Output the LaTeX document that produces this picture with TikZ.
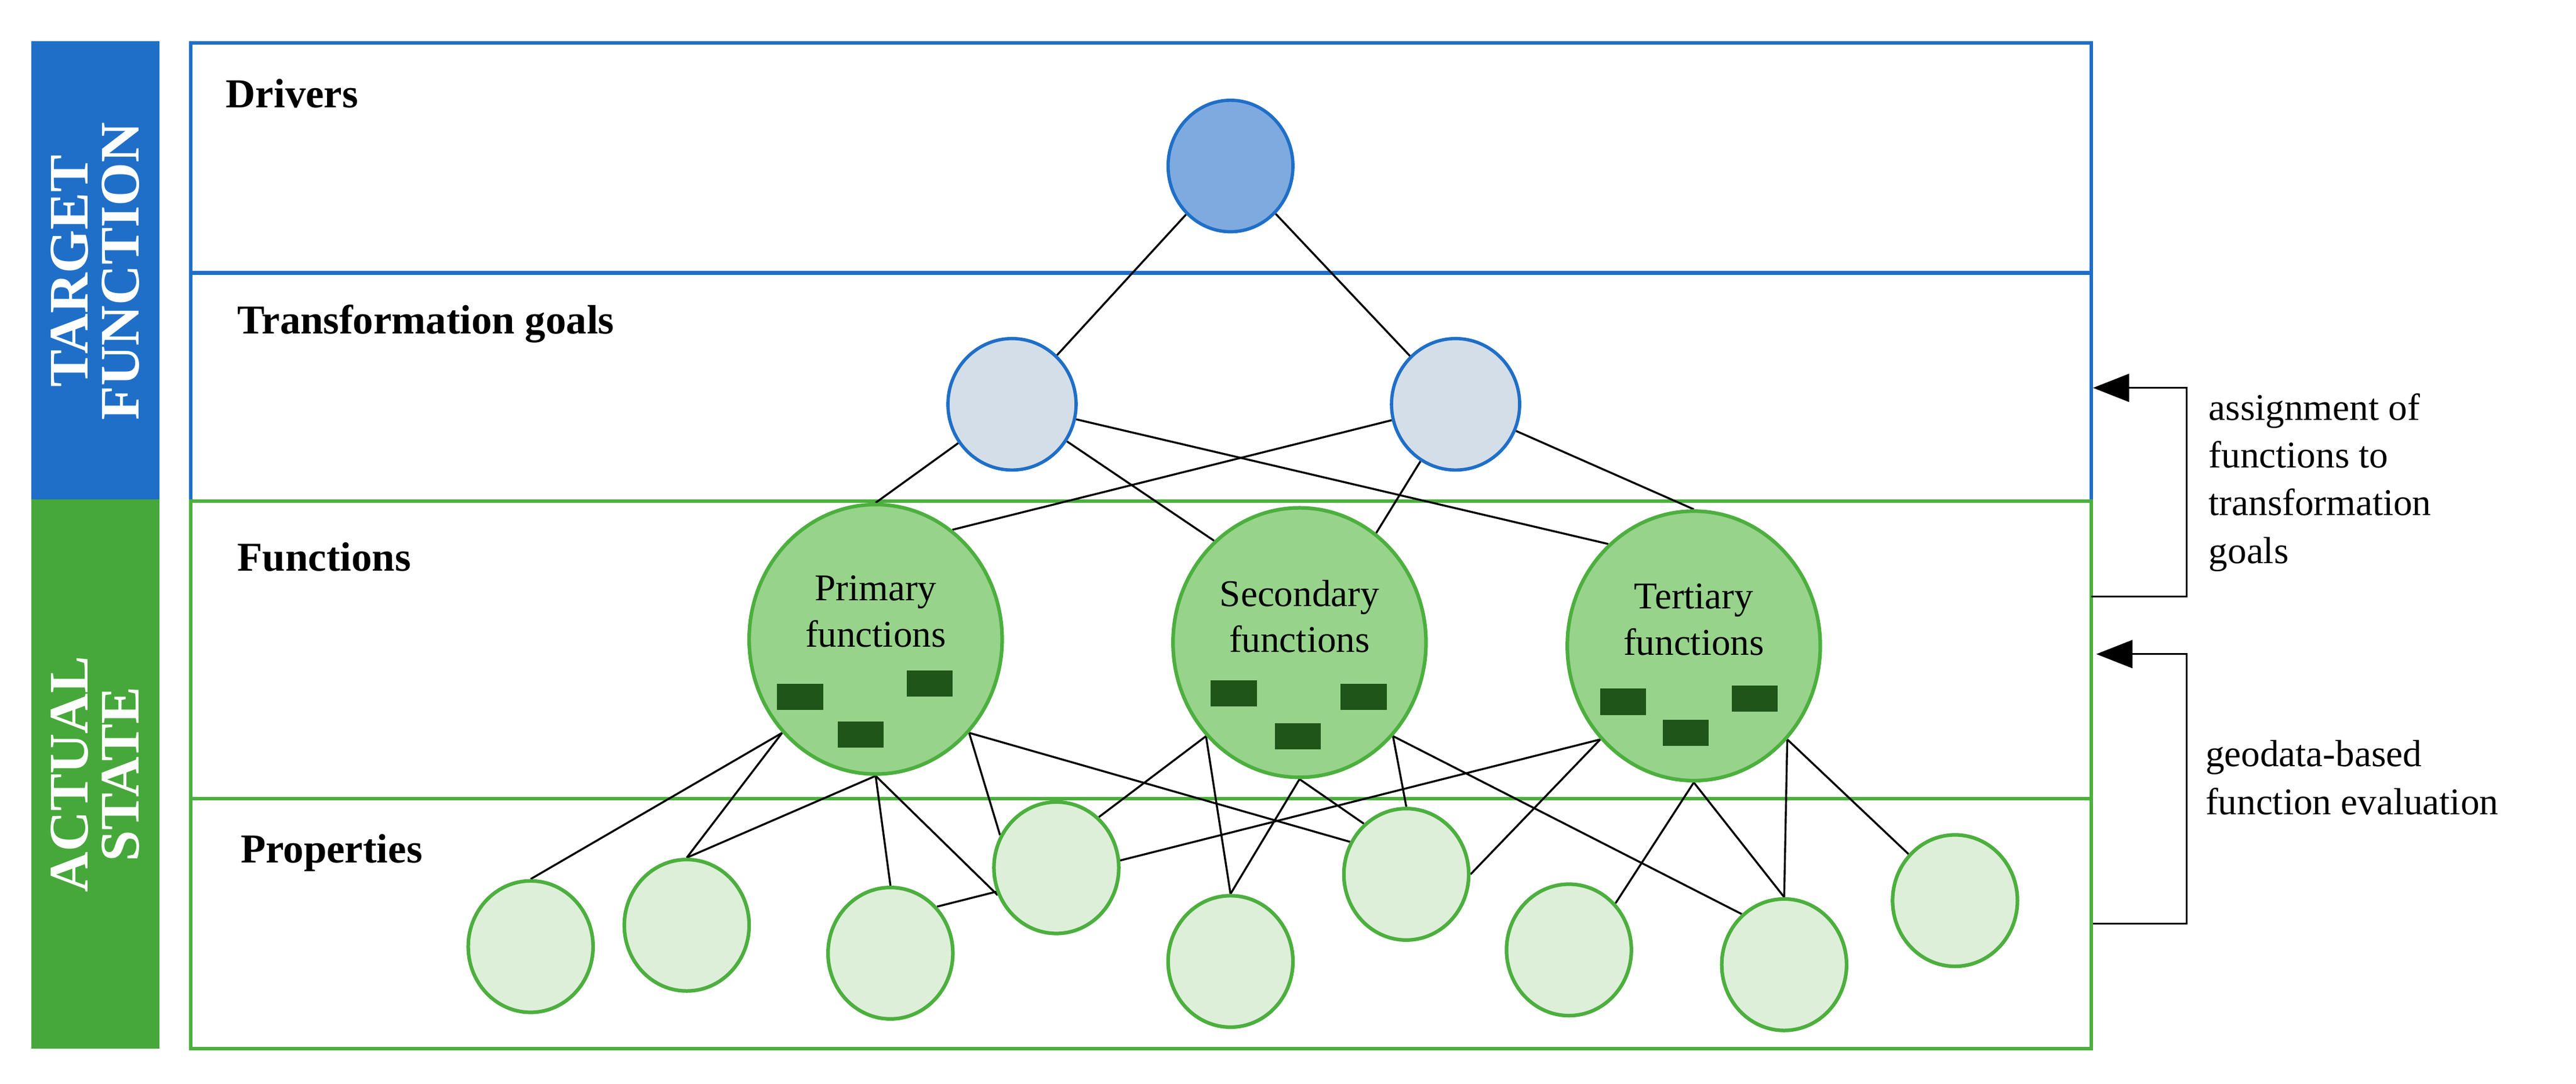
\documentclass[tikz,border=0pt]{standalone}
\usepackage{fontspec}
\setmainfont{Liberation Serif}
\usetikzlibrary{arrows.meta,shapes.geometric}
\pgfdeclarelayer{bg}\pgfsetlayers{bg,main}
\definecolor{bblue}{HTML}{1F6FC8}
\definecolor{dfill}{HTML}{7FAADF}
\definecolor{tfill}{HTML}{D4DEE8}
\definecolor{gbar}{HTML}{46A83A}
\definecolor{gline}{HTML}{4CAF3E}
\definecolor{ffill}{HTML}{97D38B}
\definecolor{pfill}{HTML}{DDEFD9}
\definecolor{dark}{HTML}{1F5518}
\begin{document}
\begin{tikzpicture}[x=1pt,y=-1pt,
 blue/.style={draw=bblue,line width=2.2pt},
 grn/.style={draw=gline,line width=2.2pt},
 drv/.style={ellipse,draw=bblue,line width=2pt,fill=dfill,minimum width=76pt,minimum height=80pt,inner sep=0},
 tg/.style={ellipse,draw=bblue,line width=2pt,fill=tfill,minimum width=78pt,minimum height=80pt,inner sep=0},
 fn/.style={ellipse,draw=gline,line width=2.2pt,fill=ffill,minimum width=154pt,minimum height=164pt,inner sep=0},
 pr/.style={ellipse,draw=gline,line width=2.2pt,fill=pfill,minimum width=76pt,minimum height=80pt,inner sep=0},
 blk/.style={fill=dark,minimum width=28pt,minimum height=16pt,inner sep=0},
 lvl/.style={anchor=west,font=\fontsize{25}{28}\selectfont\bfseries},
 ftx/.style={align=center,font=\fontsize{23}{28}\selectfont},
 side/.style={align=left,anchor=north west,font=\fontsize{23}{29}\selectfont},
 bar/.style={rotate=90,align=center,text=white,font=\fontsize{34}{31}\selectfont\bfseries},
 ln/.style={black,line width=1.2pt},
 arr/.style={black,line width=1.2pt,-{Triangle[length=22pt,width=17pt]}}]
\useasboundingbox (0,0) rectangle (1568,659.3);
% nodes
\node[drv] (d) at (749,101) {};
\node[tg] (t1) at (616,246) {};
\node[tg] (t2) at (886,246) {};
\node[fn] (f1) at (533,389) {};
\node[fn] (f2) at (791,391) {};
\node[fn] (f3) at (1031,393) {};
\node[ftx] (f1t) at (533,372) {Primary\\functions};
\node[ftx] (f2t) at (791,375) {Secondary\\functions};
\node[ftx] (f3t) at (1031,377) {Tertiary\\functions};
\node[blk] (b11) at (487,424) {};\node[blk] (b12) at (566,416) {};\node[blk] (b13) at (524,447) {};
\node[blk] (b21) at (751,422) {};\node[blk] (b22) at (830,424) {};\node[blk] (b23) at (790,448) {};
\node[blk] (b31) at (988,427) {};\node[blk] (b32) at (1068,425) {};\node[blk] (b33) at (1026,446) {};
\node[pr] (p1) at (323,576) {};
\node[pr] (p2) at (418,563) {};
\node[pr] (p3) at (542,580) {};
\node[pr] (p4) at (643,528) {};
\node[pr] (p5) at (749,585) {};
\node[pr] (p6) at (856,532) {};
\node[pr] (p7) at (955,578) {};
\node[pr] (p8) at (1086,587) {};
\node[pr] (p9) at (1190,548) {};
% bars and labels
\fill[bblue] (19,25) rectangle (97,304);
\fill[gbar] (19,304) rectangle (97,638);
\node[bar] (tb) at (58,165) {TARGET\\FUNCTION};
\node[bar] (ab) at (58,471) {ACTUAL\\STATE};
\node[lvl] (l1) at (134,57) {Drivers};
\node[lvl] (l2) at (141,197) {Transformation goals};
\node[lvl] (l3) at (141,339) {Functions};
\node[lvl] (l4) at (143,519) {Properties};
\node[side] (s1) at (1341,236) {assignment of\\functions to\\transformation\\goals};
\node[side] (s2) at (1339,447) {geodata-based\\function evaluation};
\coordinate (a1) at (1274,236);\coordinate (a1b) at (1273,363);
\coordinate (a2) at (1276,398);\coordinate (a2b) at (1274,562);
\draw[arr] (a1b) -| (1331,236) -- (a1);
\draw[arr] (a2b) -| (1331,398) -- (a2);
\begin{pgfonlayer}{bg}
\draw[blue] (116,305) -- (116,26) -- (1273,26) -- (1273,305);
\draw[blue] (116,166) -- (1273,166);
\draw[grn] (116,305) rectangle (1273,638);
\draw[grn] (116,486) -- (1273,486);
\draw[ln] (d) -- (t1); \draw[ln] (d) -- (t2);
\draw[ln] (t1) -- (f1.90); \draw[ln] (t1) -- (f2.130); \draw[ln] (t1) -- (f3.130);
\draw[ln] (t2) -- (f1.55); \draw[ln] (t2) -- (f2.55); \draw[ln] (t2) -- (f3.90);
\draw[ln] (f1.225) -- (p1.90); \draw[ln] (f1.225) -- (p2.90);
\draw[ln] (f1.270) -- (p2.90); \draw[ln] (f1.270) -- (p3.90); \draw[ln] (f1.270) -- (p4.205);
\draw[ln] (f1.315) -- (p4.150); \draw[ln] (f1.315) -- (p6.150);
\draw[ln] (f2.225) -- (p4.50); \draw[ln] (f2.225) -- (p5.90);
\draw[ln] (f2.270) -- (p5.90); \draw[ln] (f2.270) -- (p6.130);
\draw[ln] (f2.315) -- (p6.90); \draw[ln] (f2.315) -- (p8.130);
\draw[ln] (f3.225) -- (p3.45); \draw[ln] (f3.225) -- (p6.0);
\draw[ln] (f3.270) -- (p7.45); \draw[ln] (f3.270) -- (p8.90);
\draw[ln] (f3.315) -- (p8.90); \draw[ln] (f3.315) -- (p9.135);
\end{pgfonlayer}
\end{tikzpicture}
\end{document}
